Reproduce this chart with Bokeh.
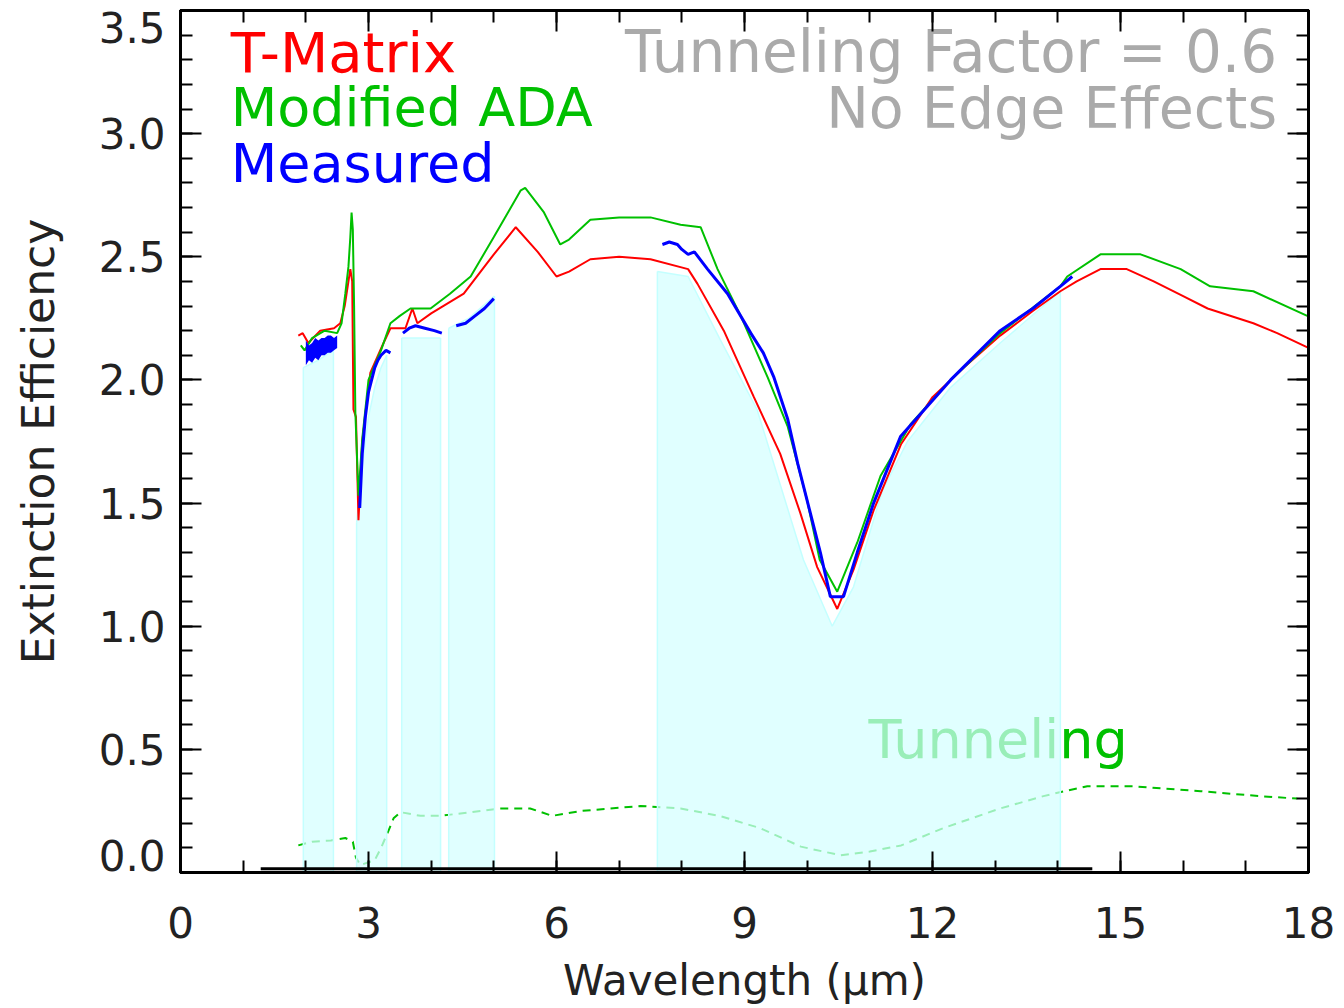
from bokeh.plotting import figure
from bokeh.models import LinearAxis, Range1d, FixedTicker, PrintfTickFormatter
from bokeh.embed import file_html
from bokeh.resources import INLINE
from bokeh.core.properties import value

FONT = "DejaVu Sans"

# ---------------- data ----------------
tm_x = [1.88, 1.95, 2.04, 2.23, 2.45, 2.55, 2.62, 2.68, 2.71, 2.74, 2.76, 2.80, 2.84, 2.90,
        3.03, 3.24, 3.35, 3.59, 3.70, 3.78, 4.00, 4.52, 5.00, 5.35, 5.70, 6.00, 6.20, 6.54,
        7.00, 7.50, 8.10, 8.25, 8.67, 9.15, 9.57, 9.89, 10.16, 10.48, 10.74, 11.06, 11.50,
        12.00, 12.50, 13.08, 13.60, 14.04, 14.30, 14.68, 15.10, 15.53, 16.00, 16.39, 17.12,
        17.50, 18.00]
tm_y = [2.18, 2.19, 2.15, 2.20, 2.21, 2.23, 2.30, 2.40, 2.45, 2.40, 1.88, 1.85, 1.43, 1.75,
        2.03, 2.15, 2.21, 2.21, 2.29, 2.23, 2.27, 2.35, 2.51, 2.62, 2.52, 2.42, 2.44, 2.49,
        2.50, 2.49, 2.45, 2.39, 2.20, 1.93, 1.70, 1.46, 1.24, 1.07, 1.23, 1.47, 1.74,
        1.93, 2.05, 2.18, 2.28, 2.36, 2.40, 2.45, 2.45, 2.40, 2.34, 2.29, 2.23,
        2.19, 2.13]

ada_x = [1.92, 1.98, 2.10, 2.30, 2.50, 2.57, 2.63, 2.68, 2.71, 2.73, 2.75, 2.77, 2.79, 2.84,
         2.90, 3.00, 3.20, 3.35, 3.50, 3.67, 3.99, 4.30, 4.63, 5.00, 5.43, 5.50, 5.80, 6.06,
         6.20, 6.54, 7.00, 7.50, 7.98, 8.30, 8.57, 8.94, 9.37, 9.69, 10.00, 10.20, 10.48,
         10.80, 11.17, 11.65, 12.29, 13.08, 14.04, 14.15, 14.68, 15.32, 15.96, 16.43, 17.12,
         17.98]
ada_y = [2.14, 2.12, 2.17, 2.20, 2.19, 2.23, 2.35, 2.46, 2.58, 2.68, 2.61, 2.30, 1.87, 1.53,
         1.76, 2.00, 2.12, 2.23, 2.26, 2.29, 2.29, 2.35, 2.42, 2.58, 2.77, 2.78, 2.68, 2.55,
         2.57, 2.65, 2.66, 2.66, 2.63, 2.62, 2.45, 2.26, 2.01, 1.81, 1.51, 1.27, 1.14,
         1.34, 1.61, 1.82, 2.00, 2.19, 2.38, 2.42, 2.51, 2.51, 2.45, 2.38, 2.36,
         2.26]

# measured spectrum, in separate wavelength windows
meas1_x = [2.00, 2.05, 2.10, 2.15, 2.20, 2.25, 2.30, 2.35, 2.40, 2.45, 2.50]
meas1_lo = [2.06, 2.08, 2.07, 2.09, 2.08, 2.10, 2.10, 2.11, 2.11, 2.12, 2.13]
meas1_hi = [2.16, 2.14, 2.15, 2.17, 2.16, 2.17, 2.17, 2.18, 2.18, 2.17, 2.18]
meas2_x = [2.86, 2.90, 2.95, 3.00, 3.05, 3.10, 3.15, 3.20, 3.28, 3.35]
meas2_y = [1.48, 1.70, 1.85, 1.95, 2.00, 2.05, 2.08, 2.10, 2.12, 2.11]
meas3_x = [3.55, 3.65, 3.75, 3.90, 4.05, 4.17]
meas3_y = [2.19, 2.21, 2.22, 2.21, 2.20, 2.19]
meas4_x = [4.40, 4.55, 4.70, 4.85, 5.00]
meas4_y = [2.22, 2.23, 2.26, 2.29, 2.33]
meas5_x = [7.69, 7.80, 7.93, 8.00, 8.10, 8.20, 8.41, 8.73, 9.10, 9.30, 9.47, 9.69, 9.85,
           10.05, 10.21, 10.37, 10.58, 10.80, 11.06, 11.49, 12.29, 13.08, 13.60, 14.04, 14.23]
meas5_y = [2.55, 2.56, 2.55, 2.53, 2.51, 2.52, 2.45, 2.35, 2.19, 2.11, 2.01, 1.84, 1.66,
           1.46, 1.30, 1.12, 1.12, 1.30, 1.50, 1.77, 2.00, 2.20, 2.29, 2.38, 2.42]

# shaded measurement windows (lower bound of the measurement)
band1_x = [1.96, 2.20, 2.44]
band1_y = [2.05, 2.08, 2.12]
band2_x = [2.81, 2.90, 3.00, 3.10, 3.20, 3.29]
band2_y = [1.42, 1.65, 1.85, 1.97, 2.05, 2.10]
band3_x = [3.53, 4.15]
band3_y = [2.17, 2.17]
band4_x = [4.28, 4.60, 5.01]
band4_y = [2.21, 2.25, 2.34]
band5_x = [7.61, 8.10, 8.60, 9.20, 9.94, 10.40, 10.74, 11.20, 11.60, 12.29, 13.08, 14.04]
band5_y = [2.44, 2.42, 2.17, 1.88, 1.27, 1.00, 1.16, 1.55, 1.75, 1.97, 2.15, 2.36]

tun_x = [1.88, 2.10, 2.40, 2.63, 2.75, 2.80, 2.87, 3.10, 3.20, 3.32, 3.40, 3.51, 3.83,
         4.15, 4.63, 5.10, 5.58, 5.93, 6.40, 7.34, 7.98, 8.60, 9.25, 9.90, 10.53, 11.00,
         11.50, 12.17, 13.08, 13.77, 14.10, 14.47, 15.20, 16.28, 17.23, 17.82]
tun_y = [0.11, 0.125, 0.13, 0.14, 0.125, 0.06, 0.03, 0.05, 0.10, 0.17, 0.22, 0.245, 0.23,
         0.23, 0.245, 0.26, 0.26, 0.23, 0.25, 0.27, 0.26, 0.23, 0.18, 0.105, 0.07, 0.085,
         0.11, 0.18, 0.26, 0.31, 0.33, 0.35, 0.35, 0.33, 0.31, 0.30]

base_x = [1.28, 14.55]
base_y = [0.015, 0.015]

x_major = [0, 3, 6, 9, 12, 15, 18]
x_minor = list(range(0, 19))
y_major = [0.0, 0.5, 1.0, 1.5, 2.0, 2.5, 3.0, 3.5]
y_minor = [round(i * 0.1, 1) for i in range(0, 36)]
# y tick labels; the two end labels sit slightly inside the frame, as in the original
y_label_pos = [0.07, 0.5, 1.0, 1.5, 2.0, 2.5, 3.0, 3.43]
y_label_txt = ["0.0", "0.5", "1.0", "1.5", "2.0", "2.5", "3.0", "3.5"]

# ---------------- figure ----------------
p = figure(width=1344, height=1008, output_backend="svg", toolbar_location=None,
           x_range=Range1d(0, 18), y_range=Range1d(0, 3.5),
           x_axis_location=None, y_axis_location=None,
           min_border_left=180, min_border_right=36, min_border_top=10,
           min_border_bottom=136, background_fill_color="white",
           border_fill_color="white")
p.grid.visible = False
p.outline_line_color = "black"
p.outline_line_width = 3


def tick_axis(positions, length, line=True):
    """An axis that only draws inward tick marks (no labels)."""
    ax = LinearAxis(ticker=FixedTicker(ticks=[], minor_ticks=positions))
    ax.axis_line_color = "black" if line else None
    ax.axis_line_width = 3
    ax.major_tick_in = 0
    ax.major_tick_out = 0
    ax.minor_tick_in = length
    ax.minor_tick_out = 0
    ax.minor_tick_line_width = 2
    ax.minor_tick_line_color = "black"
    ax.major_label_standoff = 0
    return ax


# bottom: ticks + labels + title
xa = LinearAxis(ticker=FixedTicker(ticks=x_major, minor_ticks=x_minor),
                formatter=PrintfTickFormatter(format="%d"))
xa.axis_line_color = "black"
xa.axis_line_width = 3
xa.major_tick_in = 21
xa.major_tick_out = 0
xa.minor_tick_in = 12
xa.minor_tick_out = 0
xa.major_tick_line_width = 2
xa.minor_tick_line_width = 2
xa.major_label_text_font = FONT
xa.major_label_text_font_size = "42px"
xa.major_label_text_color = "#222222"
xa.major_label_standoff = 34
xa.axis_label = "Wavelength (µm)"
xa.axis_label_text_font = FONT
xa.axis_label_text_font_size = "42px"
xa.axis_label_text_font_style = "normal"
xa.axis_label_text_color = "#222222"
xa.axis_label_standoff = 15
p.add_layout(xa, "below")

# left: short ticks, long ticks, then labels + title
p.add_layout(tick_axis(y_minor, 12), "left")
p.add_layout(tick_axis(y_major[1:-1], 21), "left")
ya = LinearAxis(ticker=FixedTicker(ticks=y_label_pos, minor_ticks=[]),
                major_label_overrides=dict(zip(y_label_pos, y_label_txt)))
ya.axis_line_color = None
ya.major_tick_in = 0
ya.major_tick_out = 0
ya.major_label_text_font = FONT
ya.major_label_text_font_size = "42px"
ya.major_label_text_color = "#222222"
ya.major_label_standoff = 15
ya.axis_label = "Extinction Efficiency"
ya.axis_label_text_font = FONT
ya.axis_label_text_font_size = "44px"
ya.axis_label_text_font_style = "normal"
ya.axis_label_text_color = "#222222"
ya.axis_label_standoff = 32
p.add_layout(ya, "left")

# top and right: ticks only
p.add_layout(tick_axis(x_minor, 12), "above")
p.add_layout(tick_axis(x_major, 21), "above")
p.add_layout(tick_axis(y_minor, 12), "right")
p.add_layout(tick_axis(y_major, 21), "right")

# tunneling contribution and its label (below the shading)
p.line(tun_x, tun_y, line_color="#00c000", line_width=2, line_dash="8 6")
p.text(x=[10.98], y=[0.54], text=["Tunneling"], text_font=value(FONT),
       text_font_size="54px", text_color="#00c000", text_baseline="middle")

# shaded windows
for bx, by in [(band1_x, band1_y), (band2_x, band2_y), (band3_x, band3_y),
               (band4_x, band4_y), (band5_x, band5_y)]:
    p.varea(x=bx, y1=[0] * len(bx), y2=by, fill_color="#d4ffff", fill_alpha=0.72)
    p.line(bx, by, line_color="#c4ffff", line_width=1.5)
    p.segment(x0=[bx[0], bx[-1]], y0=[0, 0], x1=[bx[0], bx[-1]], y1=[by[0], by[-1]],
              line_color="#c4ffff", line_width=1.5)

p.line(base_x, base_y, line_color="black", line_width=3)

p.line(tm_x, tm_y, line_color="#ff0000", line_width=2)
p.line(ada_x, ada_y, line_color="#00c000", line_width=2)

p.varea(x=meas1_x, y1=meas1_lo, y2=meas1_hi, fill_color="#0000ff")
for mx, my in [(meas2_x, meas2_y), (meas3_x, meas3_y), (meas4_x, meas4_y),
               (meas5_x, meas5_y)]:
    p.line(mx, my, line_color="#0000ff", line_width=3)

# legend-style texts
p.text(x=[0.8], y=[3.33], text=["T-Matrix"], text_font=value(FONT), text_font_size="56px",
       text_color="#ff0000", text_baseline="middle")
p.text(x=[0.8], y=[3.105], text=["Modified ADA"], text_font=value(FONT),
       text_font_size="54px", text_color="#00c000", text_baseline="middle")
p.text(x=[0.8], y=[2.88], text=["Measured"], text_font=value(FONT), text_font_size="54px",
       text_color="#0000ff", text_baseline="middle")
p.text(x=[17.5], y=[3.33], text=["Tunneling Factor = 0.6"], text_font=value(FONT),
       text_font_size="58px", text_color="#aaaaaa", text_baseline="middle",
       text_align="right")
p.text(x=[17.5], y=[3.105], text=["No Edge Effects"], text_font=value(FONT),
       text_font_size="57px", text_color="#aaaaaa", text_baseline="middle",
       text_align="right")

open("out.html", "w").write(file_html(p, INLINE))
